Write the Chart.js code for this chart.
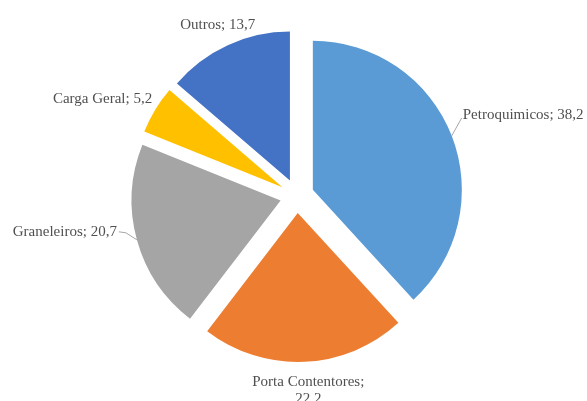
<!DOCTYPE html>
<html>
<head>
<meta charset="utf-8">
<script src="https://cdn.jsdelivr.net/npm/chart.js@4.4.1/dist/chart.umd.min.js"></script>
<style>
  html, body { margin: 0; padding: 0; background: #fff; }
  #wrap { width: 587px; height: 401px; position: relative; }
</style>
</head>
<body>
<div id="wrap"><canvas id="myChart"></canvas></div>
<script>
// data
const categories = ["Petroquimicos", "Porta Contentores", "Graneleiros", "Carga Geral", "Outros"];
const shares = [38.2, 22.2, 20.7, 5.2, 13.7];
const sliceColors = ["#5B9BD5", "#ED7D31", "#A5A5A5", "#FFC000", "#4472C4"];

// label layout (relative to the outer edge of each slice at its middle angle)
const explode = 17;
const labelShift = [[10, -18], [4, 20], [-18, -8], [-3, -11], [-10, -20]];
const labelAlign = ["left", "center", "right", "right", "center"];
const labelLeader = [true, false, true, false, false];
const labelWrap = [false, true, false, false, false];

function fmt(v) {
  return v.toFixed(1).replace(".", ",");
}

//pull every slice out from the centre
const explodePlugin = {
  id: "explode",
  beforeDatasetDraw: (chart, args) => {
    const ctx = chart.ctx;
    args.meta.data.forEach((arc) => {
      const mid = (arc.startAngle + arc.endAngle) / 2;
      ctx.save();
      ctx.translate(Math.cos(mid) * explode, Math.sin(mid) * explode);
      arc.draw(ctx);
      ctx.restore();
    });
    return false;
  },
};

//labels "Nome; valor"
const labelPlugin = {
  id: "sliceLabels",
  afterDatasetsDraw: (chart) => {
    const ctx = chart.ctx;
    const meta = chart.getDatasetMeta(0);
    ctx.save();
    ctx.font = "15px 'Liberation Serif', 'Times New Roman', serif";
    ctx.fillStyle = "#505050";
    ctx.strokeStyle = "#a6a6a6";
    ctx.lineWidth = 1;
    meta.data.forEach((arc, i) => {
      const mid = (arc.startAngle + arc.endAngle) / 2;
      const d = explode + arc.outerRadius;
      const ex = arc.x + Math.cos(mid) * d;
      const ey = arc.y + Math.sin(mid) * d;
      const lx = ex + labelShift[i][0];
      const ly = ey + labelShift[i][1];
      let tx = lx;
      let ty = ly;
      if (labelLeader[i]) {
        ctx.beginPath();
        ctx.moveTo(ex, ey);
        if (labelAlign[i] === "right") {
          ctx.lineTo(lx + 7, ly + 1);
          ctx.lineTo(lx, ly);
          tx = lx - 2;
        } else {
          ctx.lineTo(lx, ly);
          tx = lx + 1;
          ty = ly - 3;
        }
        ctx.stroke();
      }
      ctx.textAlign = labelAlign[i];
      ctx.textBaseline = "middle";
      if (labelWrap[i]) {
        ctx.fillText(categories[i] + ";", tx, ty);
        ctx.fillText(fmt(shares[i]), tx, ty + 17);
      } else {
        ctx.fillText(categories[i] + "; " + fmt(shares[i]), tx, ty);
      }
    });
    ctx.restore();
  },
};

const config = {
  type: "pie",
  data: {
    labels: categories,
    datasets: [
      {
        data: shares,
        backgroundColor: sliceColors,
        borderWidth: 0,
      },
    ],
  },
  plugins: [explodePlugin, labelPlugin],
  options: {
    responsive: true,
    maintainAspectRatio: false,
    animation: false,
    events: [],
    radius: 149,
    layout: { padding: { left: 7, right: 0, top: 0, bottom: 9 } },
    plugins: {
      legend: { display: false },
      tooltip: { enabled: false },
    },
  },
};
const myChart = new Chart(document.getElementById("myChart"), config);
</script>
</body>
</html>
